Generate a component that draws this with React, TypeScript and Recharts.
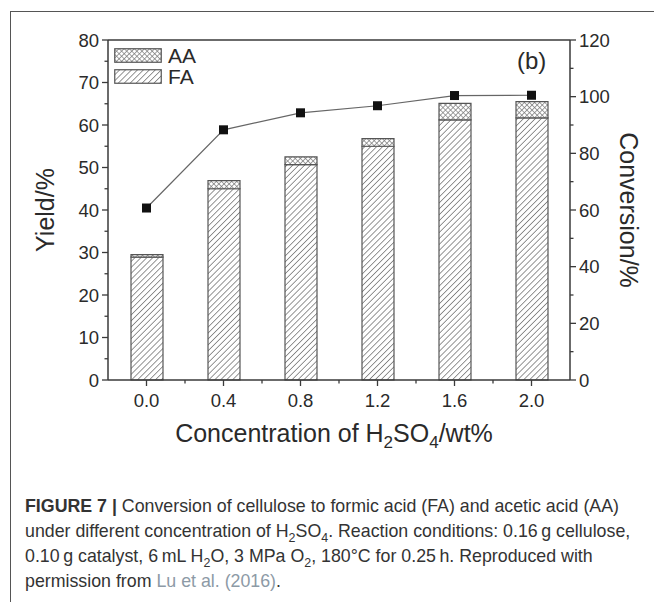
import React from 'react'
import {
    ComposedChart,
    Bar,
    Line,
    XAxis,
    YAxis,
    ReferenceLine
} from 'recharts'

// values
const concentrations = ['0.0', '0.4', '0.8', '1.2', '1.6', '2.0']
const faYield = [28.9, 45.0, 50.7, 55.0, 61.2, 61.7]
const aaYield = [0.6, 1.9, 1.8, 1.8, 3.9, 3.8]
const conversion = [60.7, 88.3, 94.3, 96.8, 100.4, 100.5]

const yieldTicks = [0, 5, 10, 15, 20, 25, 30, 35, 40, 45, 50, 55, 60, 65, 70, 75, 80]
const conversionTicks = [0, 10, 20, 30, 40, 50, 60, 70, 80, 90, 100, 110, 120]

const seriesNames = ['AA', 'FA']

const data = concentrations.map((c, i) => ({
    conc: c,
    fa: faYield[i],
    aa: aaYield[i],
    conversion: conversion[i],
}))

const W = 654
const H = 602
const CHART_H = 460
const PLOT_LEFT = 108
const PLOT_RIGHT_W = 84
const PLOT_TOP = 40
const XAXIS_H = 80
const BAND = (W - PLOT_LEFT - PLOT_RIGHT_W) / concentrations.length

const AXIS = '#3a3a3a'
const TEXT = '#2a2a2a'
const FONT = '"Liberation Sans", Arial, Helvetica, sans-serif'

const LeftTick = ({ x, y, payload }: any) => {
    const major = payload.value % 10 === 0
    return (
        <g>
            <line x1={x} x2={x - (major ? 6 : 3.5)} y1={y} y2={y} stroke={AXIS} strokeWidth={1.3} />
            {major && (
                <text x={x - 9} y={y} dy={6.5} textAnchor="end" fontSize={18.5} fill={TEXT} fontFamily={FONT}>
                    {payload.value}
                </text>
            )}
        </g>
    )
}

const RightTick = ({ x, y, payload }: any) => {
    const major = payload.value % 20 === 0
    return (
        <g>
            <line x1={x} x2={x + (major ? 6 : 3.5)} y1={y} y2={y} stroke={AXIS} strokeWidth={1.3} />
            {major && (
                <text x={x + 9} y={y} dy={6.5} textAnchor="start" fontSize={18.5} fill={TEXT} fontFamily={FONT}>
                    {payload.value}
                </text>
            )}
        </g>
    )
}

const BottomTick = ({ x, y, payload, index }: any) => {
    return (
        <g>
            <line x1={x} x2={x} y1={y} y2={y + 6} stroke={AXIS} strokeWidth={1.3} />
            {index < concentrations.length - 1 && (
                <line x1={x + BAND / 2} x2={x + BAND / 2} y1={y} y2={y + 3.5} stroke={AXIS} strokeWidth={1.3} />
            )}
            <text x={x} y={y + 27} textAnchor="middle" fontSize={18.5} fill={TEXT} fontFamily={FONT}>
                {payload.value}
            </text>
        </g>
    )
}

const SquareDot = ({ cx, cy, index }: any) => (
    <rect key={index} x={cx - 4.5} y={cy - 4.5} width={9} height={9} fill="#111" />
)

const LegendBox = () => (
    <div style={{ fontFamily: FONT, color: TEXT }}>
        {seriesNames.map((name) => (
            <div key={name} style={{ display: 'flex', alignItems: 'center', height: 21 }}>
                <svg width={48} height={15} style={{ display: 'block' }}>
                    <rect x={0.75} y={0.75} width={46.5} height={13.5} fill={name === 'AA' ? 'url(#aaPattern)' : 'url(#faPattern)'} stroke="#555" strokeWidth={1.2} />
                </svg>
                <span style={{ fontSize: 21, marginLeft: 6, lineHeight: '21px' }}>{name}</span>
            </div>
        ))}
    </div>
)

const sub = { fontSize: '0.68em', verticalAlign: '-0.3em' }
const capSub = { fontSize: '0.7em', lineHeight: 0 }

export default function App() {
    return (
        <div style={{ position: 'absolute', left: 0, top: 0, width: W, height: H, background: '#fff', overflow: 'hidden' }}>
            <svg width={0} height={0} style={{ position: 'absolute' }}>
                <defs>
                    <pattern id="faPattern" patternUnits="userSpaceOnUse" width={4.2} height={4.2} patternTransform="rotate(45)">
                        <rect width={4.2} height={4.2} fill="#fff" />
                        <line x1={0} y1={0} x2={0} y2={4.2} stroke="#6a6a6a" strokeWidth={1.4} />
                    </pattern>
                    <pattern id="aaPattern" patternUnits="userSpaceOnUse" width={3.6} height={3.6} patternTransform="rotate(45)">
                        <rect width={3.6} height={3.6} fill="#fff" />
                        <path d="M0 0 V3.6 M0 0 H3.6" stroke="#7a7a7a" strokeWidth={1.4} />
                    </pattern>
                </defs>
            </svg>

            {/* figure panel frame */}
            <div style={{ position: 'absolute', left: 10, top: 11, width: W, height: H, borderTop: '1.5px solid #555', borderLeft: '1.5px solid #555' }} />

            <div style={{ position: 'absolute', left: 0, top: 0 }}>
                <ComposedChart
                    width={W}
                    height={CHART_H}
                    data={data}
                    margin={{ top: PLOT_TOP, right: 0, left: 0, bottom: 0 }}
                    barSize={32}
                >
                    <XAxis
                        dataKey="conc"
                        height={XAXIS_H}
                        interval={0}
                        tickSize={0}
                        tickMargin={0}
                        tickLine={false}
                        axisLine={{ stroke: AXIS, strokeWidth: 1.5 }}
                        tick={<BottomTick />}
                    />
                    <YAxis
                        yAxisId="left"
                        width={PLOT_LEFT}
                        domain={[0, 80]}
                        ticks={yieldTicks}
                        interval={0}
                        tickSize={0}
                        tickMargin={0}
                        tickLine={false}
                        axisLine={{ stroke: AXIS, strokeWidth: 1.5 }}
                        tick={<LeftTick />}
                    />
                    <YAxis
                        yAxisId="right"
                        orientation="right"
                        width={PLOT_RIGHT_W}
                        domain={[0, 120]}
                        ticks={conversionTicks}
                        interval={0}
                        tickSize={0}
                        tickMargin={0}
                        tickLine={false}
                        axisLine={{ stroke: AXIS, strokeWidth: 1.5 }}
                        tick={<RightTick />}
                    />
                    <ReferenceLine yAxisId="left" y={80} stroke={AXIS} strokeWidth={1.5} />
                    <Bar yAxisId="left" dataKey="fa" name="FA" stackId="y" fill="url(#faPattern)" stroke="#555" strokeWidth={1.2} isAnimationActive={false} />
                    <Bar yAxisId="left" dataKey="aa" name="AA" stackId="y" fill="url(#aaPattern)" stroke="#555" strokeWidth={1.2} isAnimationActive={false} />
                    <Line
                        yAxisId="right"
                        dataKey="conversion"
                        stroke="#666"
                        strokeWidth={1.2}
                        dot={<SquareDot />}
                        activeDot={false}
                        isAnimationActive={false}
                    />
                </ComposedChart>
            </div>

            {/* legend, inside the plot's top-left corner */}
            <div style={{ position: 'absolute', left: 114, top: 45 }}>
                <LegendBox />
            </div>

            {/* panel label */}
            <div style={{ position: 'absolute', left: 517, top: 47, fontFamily: FONT, fontSize: 24, color: TEXT }}>(b)</div>

            {/* axis titles */}
            <div style={{ position: 'absolute', left: 45, top: 210, transform: 'translate(-50%, -50%) rotate(-90deg)', fontFamily: FONT, fontSize: 25, color: TEXT, whiteSpace: 'nowrap' }}>
                Yield/%
            </div>
            <div style={{ position: 'absolute', left: 628, top: 210, transform: 'translate(-50%, -50%) rotate(90deg)', fontFamily: FONT, fontSize: 25, color: TEXT, whiteSpace: 'nowrap' }}>
                Conversion/%
            </div>
            <div style={{ position: 'absolute', left: 334, top: 436, transform: 'translate(-50%, -50%)', fontFamily: FONT, fontSize: 25, color: TEXT, whiteSpace: 'nowrap' }}>
                Concentration of H<span style={sub}>2</span>SO<span style={sub}>4</span>/wt%
            </div>

            {/* caption */}
            <div style={{ position: 'absolute', left: 25, top: 494, fontFamily: FONT, fontSize: 17.8, lineHeight: '25px', color: '#333', whiteSpace: 'nowrap' }}>
                <b>FIGURE 7 |</b> Conversion of cellulose to formic acid (FA) and acetic acid (AA)<br />
                under different concentration of H<sub style={capSub}>2</sub>SO<sub style={capSub}>4</sub>. Reaction conditions: 0.16{'\u2009'}g cellulose,<br />
                0.10{'\u2009'}g catalyst, 6{'\u2009'}mL H<sub style={capSub}>2</sub>O, 3 MPa O<sub style={capSub}>2</sub>, 180°C for 0.25{'\u2009'}h. Reproduced with<br />
                permission from <span style={{ color: '#8d9aa6' }}>Lu et al. (2016)</span>.
            </div>
        </div>
    )
}
